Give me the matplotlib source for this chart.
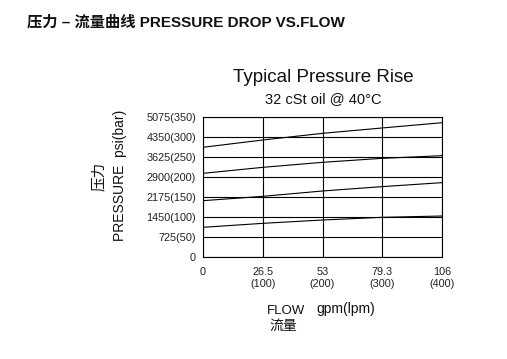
import matplotlib.pyplot as plt

plt.rcParams['font.family'] = ['Liberation Sans', 'Noto Sans CJK SC']

# data (psi vs gpm)
flow_gpm = [0, 26.5, 53, 79.3, 106]
curve_a = [3977, 4241, 4483, 4676, 4868]
curve_b = [3033, 3250, 3432, 3576, 3673]
curve_c = [2042, 2199, 2393, 2550, 2695]
curve_d = [1076, 1220, 1341, 1438, 1486]

y_ticks = [0, 725, 1450, 2175, 2900, 3625, 4350, 5075]
y_tick_labels = ["0", "725(50)", "1450(100)", "2175(150)", "2900(200)",
                 "3625(250)", "4350(300)", "5075(350)"]
x_tick_labels = ["0", "26.5\n(100)", "53\n(200)", "79.3\n(300)", "106\n(400)"]

fig = plt.figure(figsize=(5.07, 3.59), dpi=100)
ax = fig.add_axes([203 / 507, 1 - 257 / 359, 239 / 507, 140 / 359])

for curve in (curve_a, curve_b, curve_c, curve_d):
    ax.plot(flow_gpm, curve, color='black', lw=0.8)

ax.set_xlim(0, 106)
ax.set_ylim(0, 5075)
ax.set_xticks(flow_gpm)
ax.set_xticklabels(x_tick_labels, fontsize=7.8, linespacing=1.25, color='#222222')
ax.set_yticks(y_ticks)
ax.set_yticklabels(y_tick_labels, fontsize=7.8, color='#222222')
ax.tick_params(length=0, pad=5)
ax.tick_params(axis='x', pad=7)
ax.grid(True, color='black', lw=0.8)
for s in ax.spines.values():
    s.set_color('black')
    s.set_linewidth(0.8)

# titles
fig.text(27 / 507, 1 - 22 / 359, "压力 – 流量曲线 PRESSURE DROP VS.FLOW",
         fontsize=11, fontweight='bold', va='center', ha='left', color='#111111')
fig.text(323 / 507, 1 - 77 / 359, "Typical Pressure Rise",
         fontsize=13.5, ha='center', va='center', color='#111111')
fig.text(323 / 507, 1 - 99 / 359, "32 cSt oil @ 40°C",
         fontsize=10.5, ha='center', va='center', color='#111111')

# axis labels
fig.text(120 / 507, 1 - 175 / 359, "PRESSURE  psi(bar)", rotation=90,
         fontsize=10, ha='center', va='center', color='#111111')
fig.text(99 / 507, 1 - 176 / 359, "压力", rotation=90,
         fontsize=10.5, ha='center', va='center', color='#111111')
fig.text(267 / 507, 1 - 311 / 359, "FLOW", fontsize=9.5,
         ha='left', va='center', color='#111111')
fig.text(316 / 507, 1 - 309 / 359, "gpm(lpm)", fontsize=10,
         ha='left', va='center', color='#111111')
fig.text(269 / 507, 1 - 326 / 359, "流量", fontsize=10,
         ha='left', va='center', color='#111111')

fig.savefig("out.png", dpi=100)
